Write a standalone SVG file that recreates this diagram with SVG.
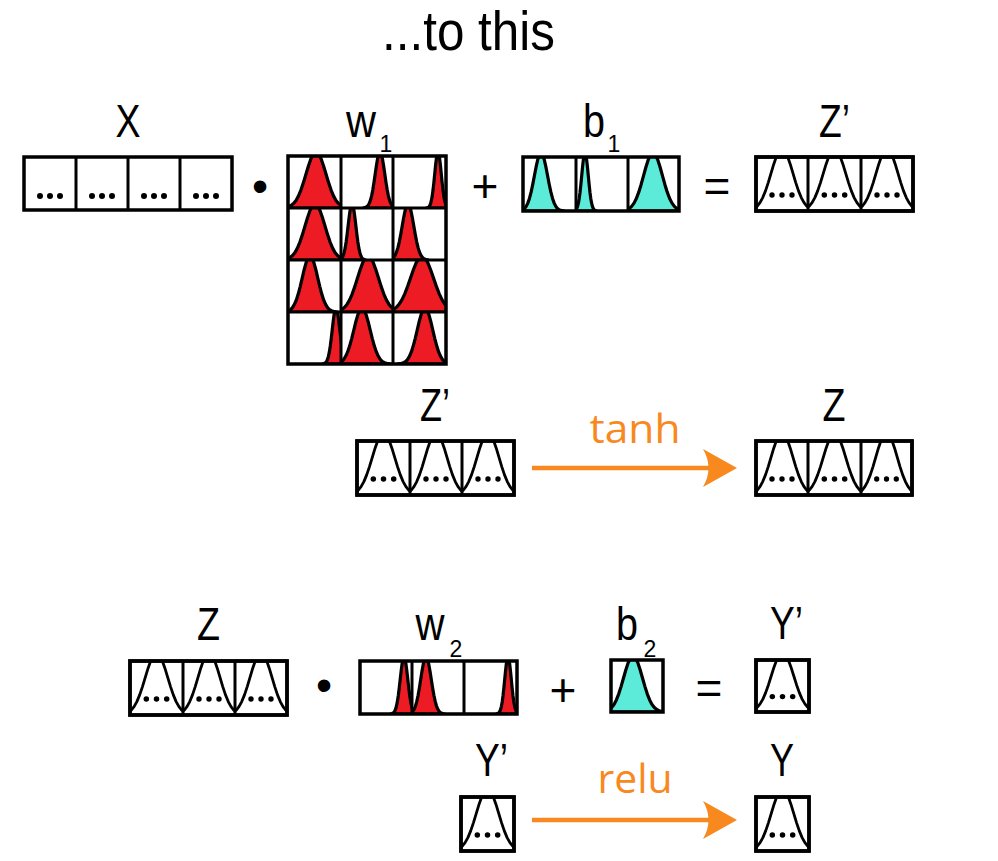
<svg xmlns="http://www.w3.org/2000/svg" xmlns:xlink="http://www.w3.org/1999/xlink" width="998" height="861" viewBox="0 0 998 861">
<style>
.box{fill:#fff;stroke:#000;stroke-width:3.5}
.fr{fill:none;stroke:#000;stroke-width:3.5}
.div{stroke:#000;stroke-width:3}
.red{fill:#ed1c24;stroke:#000;stroke-width:3.2}
.teal{fill:#5cebd9;stroke:#000;stroke-width:3.2}
.lbl{font-family:"Liberation Sans",Arial,sans-serif;font-size:46px;fill:#000}
.sub{font-family:"Liberation Sans",Arial,sans-serif;font-size:23px;fill:#000;text-anchor:middle}
.op{font-family:"Liberation Sans",Arial,sans-serif;font-size:46px;fill:#000;text-anchor:middle}
.fn{font-family:"Open Sans","Noto Sans",sans-serif;font-size:40px;fill:#f7891f;text-anchor:middle}
.arr{stroke:#f7891f;stroke-width:4.5;fill:none}
</style>
<defs>
<path id="gf" vector-effect="non-scaling-stroke" stroke-linejoin="round" d="M-3.5,0 L-3,-0.0111 -2.75,-0.0228 -2.5,-0.0439 -2.25,-0.0796 -2,-0.1353 -1.75,-0.2163 -1.5,-0.3247 -1.25,-0.4578 -1,-0.6065 -0.75,-0.7548 -0.5,-0.8825 -0.25,-0.9692 0,-1 0.25,-0.9692 0.5,-0.8825 0.75,-0.7548 1,-0.6065 1.25,-0.4578 1.5,-0.3247 1.75,-0.2163 2,-0.1353 2.25,-0.0796 2.5,-0.0439 2.75,-0.0228 3,-0.0111 3.5,0 Z"/>
<path id="go" vector-effect="non-scaling-stroke" stroke-linejoin="round" fill="none" stroke="#000" stroke-width="2.8" d="M-3.5,0 L-3,-0.0111 -2.75,-0.0228 -2.5,-0.0439 -2.25,-0.0796 -2,-0.1353 -1.75,-0.2163 -1.5,-0.3247 -1.25,-0.4578 -1,-0.6065 -0.75,-0.7548 -0.5,-0.8825 -0.25,-0.9692 0,-1 0.25,-0.9692 0.5,-0.8825 0.75,-0.7548 1,-0.6065 1.25,-0.4578 1.5,-0.3247 1.75,-0.2163 2,-0.1353 2.25,-0.0796 2.5,-0.0439 2.75,-0.0228 3,-0.0111 3.5,0"/>
<symbol id="oc" viewBox="0 0 52 54" preserveAspectRatio="none">
<use xlink:href="#go" transform="translate(26,54) scale(11,62)"/>
<circle cx="16" cy="38" r="2.7"/><circle cx="26" cy="38" r="2.7"/><circle cx="36" cy="38" r="2.7"/>
</symbol>
<marker id="ah" markerUnits="userSpaceOnUse" viewBox="0 0 34 38" markerWidth="34" markerHeight="38" refX="22" refY="19" orient="auto">
<path d="M0,0 L34,19 L0,38 Q11,19 0,0 Z" fill="#f7891f"/>
</marker>
</defs>
<rect width="998" height="861" fill="#fff"/>

<g id="title"><text x="382" y="50" font-family="Liberation Sans, Arial, sans-serif" font-size="56" textLength="173" lengthAdjust="spacingAndGlyphs">...to this</text></g>

<g id="X">
<text class="lbl" x="128" y="137" text-anchor="middle" textLength="25" lengthAdjust="spacingAndGlyphs">X</text>
<rect class="box" x="24" y="157" width="208" height="53"/>
<line class="div" x1="76" y1="157" x2="76" y2="210"/><line class="div" x1="128" y1="157" x2="128" y2="210"/><line class="div" x1="180" y1="157" x2="180" y2="210"/>
<g>
<circle cx="40" cy="196" r="3"/><circle cx="50" cy="196" r="3"/><circle cx="60" cy="196" r="3"/>
<circle cx="92" cy="196" r="3"/><circle cx="102" cy="196" r="3"/><circle cx="112" cy="196" r="3"/>
<circle cx="144" cy="196" r="3"/><circle cx="154" cy="196" r="3"/><circle cx="164" cy="196" r="3"/>
<circle cx="196" cy="196" r="3"/><circle cx="206" cy="196" r="3"/><circle cx="216" cy="196" r="3"/>
</g>
</g>

<g id="op1"><text class="op" x="260" y="202" font-size="40">•</text></g>

<g id="w1">
<text class="lbl" x="361" y="137" text-anchor="middle" textLength="30" lengthAdjust="spacingAndGlyphs">w</text>
<text class="sub" x="386" y="152">1</text>
<rect x="288" y="156" width="158" height="208" fill="#fff"/>
<svg x="288" y="156" width="53" height="52" viewBox="288 156 53 52"><use xlink:href="#gf" class="red" transform="translate(316,208) scale(10,56)"/></svg>
<svg x="341" y="156" width="52" height="52" viewBox="341 156 52 52"><use xlink:href="#gf" class="red" transform="translate(380,208) scale(4.8,56)"/></svg>
<svg x="393" y="156" width="53" height="52" viewBox="393 156 53 52"><use xlink:href="#gf" class="red" transform="translate(438,208) scale(3.3,56)"/></svg>
<svg x="288" y="208" width="53" height="52" viewBox="288 208 53 52"><use xlink:href="#gf" class="red" transform="translate(315,260) scale(10,56)"/></svg>
<svg x="341" y="208" width="52" height="52" viewBox="341 208 52 52"><use xlink:href="#gf" class="red" transform="translate(352,260) scale(3.9,56)"/></svg>
<svg x="393" y="208" width="53" height="52" viewBox="393 208 53 52"><use xlink:href="#gf" class="red" transform="translate(408,260) scale(5.8,56)"/></svg>
<svg x="288" y="260" width="53" height="52" viewBox="288 260 53 52"><use xlink:href="#gf" class="red" transform="translate(310,312) scale(7.8,56)"/></svg>
<svg x="341" y="260" width="52" height="52" viewBox="341 260 52 52"><use xlink:href="#gf" class="red" transform="translate(368,312) scale(10.5,56)"/></svg>
<svg x="393" y="260" width="53" height="52" viewBox="393 260 53 52"><use xlink:href="#gf" class="red" transform="translate(422,312) scale(11.5,56)"/></svg>
<svg x="288" y="312" width="53" height="52" viewBox="288 312 53 52"><use xlink:href="#gf" class="red" transform="translate(336,364) scale(3.8,56)"/></svg>
<svg x="341" y="312" width="52" height="52" viewBox="341 312 52 52"><use xlink:href="#gf" class="red" transform="translate(362,364) scale(8.2,56)"/></svg>
<svg x="393" y="312" width="53" height="52" viewBox="393 312 53 52"><use xlink:href="#gf" class="red" transform="translate(425,364) scale(7.8,56)"/></svg>
<line class="div" x1="341" y1="156" x2="341" y2="364"/><line class="div" x1="393" y1="156" x2="393" y2="364"/>
<line class="div" x1="288" y1="208" x2="446" y2="208"/><line class="div" x1="288" y1="260" x2="446" y2="260"/><line class="div" x1="288" y1="312" x2="446" y2="312"/>
<rect class="fr" x="288" y="156" width="158" height="208"/>
</g>

<g id="op2"><text class="op" x="485" y="202">+</text></g>

<g id="b1">
<text class="lbl" x="594" y="137" text-anchor="middle" textLength="22" lengthAdjust="spacingAndGlyphs">b</text>
<text class="sub" x="614" y="152">1</text>
<rect x="523" y="157" width="156" height="54" fill="#fff"/>
<svg x="523" y="157" width="53" height="54" viewBox="523 157 53 54"><use xlink:href="#gf" class="teal" transform="translate(541,211) scale(6.6,58)"/></svg>
<svg x="576" y="157" width="52" height="54" viewBox="576 157 52 54"><use xlink:href="#gf" class="teal" transform="translate(585,211) scale(3.3,58)"/></svg>
<svg x="628" y="157" width="51" height="54" viewBox="628 157 51 54"><use xlink:href="#gf" class="teal" transform="translate(653,211) scale(9.5,58)"/></svg>
<line class="div" x1="576" y1="157" x2="576" y2="211"/><line class="div" x1="628" y1="157" x2="628" y2="211"/>
<rect class="fr" x="523" y="157" width="156" height="54"/>
</g>

<g id="op3"><text class="op" x="717" y="202">=</text></g>

<g id="Zp1">
<text class="lbl" x="819" y="137" textLength="31" lengthAdjust="spacingAndGlyphs">Z’</text>
<rect class="box" x="756" y="157" width="157" height="54"/>
<use xlink:href="#oc" x="756" y="157" width="52" height="54"/>
<use xlink:href="#oc" x="808" y="157" width="53" height="54"/>
<use xlink:href="#oc" x="861" y="157" width="52" height="54"/>
<line class="div" x1="808" y1="157" x2="808" y2="211"/><line class="div" x1="861" y1="157" x2="861" y2="211"/>
<rect class="fr" x="756" y="157" width="157" height="54"/>
</g>

<g id="Zp2">
<text class="lbl" x="420" y="421" textLength="30" lengthAdjust="spacingAndGlyphs">Z’</text>
<rect class="box" x="357" y="441" width="157" height="54"/>
<use xlink:href="#oc" x="357" y="441" width="53" height="54"/>
<use xlink:href="#oc" x="410" y="441" width="52" height="54"/>
<use xlink:href="#oc" x="462" y="441" width="52" height="54"/>
<line class="div" x1="410" y1="441" x2="410" y2="495"/><line class="div" x1="462" y1="441" x2="462" y2="495"/>
<rect class="fr" x="357" y="441" width="157" height="54"/>
</g>

<g id="Z1">
<text class="lbl" x="834" y="421" text-anchor="middle" textLength="23" lengthAdjust="spacingAndGlyphs">Z</text>
<rect class="box" x="756" y="441" width="156" height="54"/>
<use xlink:href="#oc" x="756" y="441" width="52" height="54"/>
<use xlink:href="#oc" x="808" y="441" width="53" height="54"/>
<use xlink:href="#oc" x="861" y="441" width="51" height="54"/>
<line class="div" x1="808" y1="441" x2="808" y2="495"/><line class="div" x1="861" y1="441" x2="861" y2="495"/>
<rect class="fr" x="756" y="441" width="156" height="54"/>
</g>

<g id="Z2">
<text class="lbl" x="208.5" y="640" text-anchor="middle" textLength="23" lengthAdjust="spacingAndGlyphs">Z</text>
<rect class="box" x="130" y="661" width="157" height="54"/>
<use xlink:href="#oc" x="130" y="661" width="53" height="54"/>
<use xlink:href="#oc" x="183" y="661" width="52" height="54"/>
<use xlink:href="#oc" x="235" y="661" width="52" height="54"/>
<line class="div" x1="183" y1="661" x2="183" y2="715"/><line class="div" x1="235" y1="661" x2="235" y2="715"/>
<rect class="fr" x="130" y="661" width="157" height="54"/>
</g>

<g id="op4"><text class="op" x="324" y="701" font-size="40">•</text></g>

<g id="w2">
<text class="lbl" x="430" y="640" text-anchor="middle" textLength="29" lengthAdjust="spacingAndGlyphs">w</text>
<text class="sub" x="456" y="657">2</text>
<rect x="360" y="661" width="157" height="53" fill="#fff"/>
<svg x="360" y="661" width="52" height="53" viewBox="360 661 52 53"><use xlink:href="#gf" class="red" transform="translate(404,714) scale(3.8,57)"/></svg>
<svg x="412" y="661" width="52" height="53" viewBox="412 661 52 53"><use xlink:href="#gf" class="red" transform="translate(426,714) scale(5.3,57)"/></svg>
<svg x="464" y="661" width="53" height="53" viewBox="464 661 53 53"><use xlink:href="#gf" class="red" transform="translate(508,714) scale(3.3,57)"/></svg>
<line class="div" x1="412" y1="661" x2="412" y2="714"/><line class="div" x1="464" y1="661" x2="464" y2="714"/>
<rect class="fr" x="360" y="661" width="157" height="53"/>
</g>

<g id="op5"><text class="op" x="563" y="706">+</text></g>

<g id="b2">
<text class="lbl" x="627" y="640" text-anchor="middle" textLength="22" lengthAdjust="spacingAndGlyphs">b</text>
<text class="sub" x="650" y="657">2</text>
<rect x="611" y="660" width="52" height="52" fill="#fff"/>
<svg x="611" y="660" width="52" height="52" viewBox="611 660 52 52"><use xlink:href="#gf" class="teal" transform="translate(633,712) scale(9.5,56)"/></svg>
<rect class="fr" x="611" y="660" width="52" height="52"/>
</g>

<g id="op6"><text class="op" x="709" y="704">=</text></g>

<g id="Yp1">
<text class="lbl" x="770" y="639" textLength="33" lengthAdjust="spacingAndGlyphs">Y’</text>
<rect class="box" x="756" y="660" width="53" height="52"/>
<use xlink:href="#oc" x="756" y="660" width="53" height="52"/>
<rect class="fr" x="756" y="660" width="53" height="52"/>
</g>

<g id="Yp2">
<text class="lbl" x="475" y="776" textLength="33" lengthAdjust="spacingAndGlyphs">Y’</text>
<rect class="box" x="461" y="797" width="53" height="54"/>
<use xlink:href="#oc" x="461" y="797" width="53" height="54"/>
<rect class="fr" x="461" y="797" width="53" height="54"/>
</g>

<g id="Y">
<text class="lbl" x="782" y="776" text-anchor="middle" textLength="24" lengthAdjust="spacingAndGlyphs">Y</text>
<rect class="box" x="756" y="797" width="53" height="54"/>
<use xlink:href="#oc" x="756" y="797" width="53" height="54"/>
<rect class="fr" x="756" y="797" width="53" height="54"/>
</g>

<g id="connectors">
<line class="arr" x1="532" y1="468" x2="725" y2="468" marker-end="url(#ah)"/>
<text class="fn" x="635" y="443" textLength="91" lengthAdjust="spacingAndGlyphs">tanh</text>
<line class="arr" x1="532" y1="820" x2="725" y2="820" marker-end="url(#ah)"/>
<text class="fn" x="635" y="793" textLength="75" lengthAdjust="spacingAndGlyphs">relu</text>
</g>
</svg>
